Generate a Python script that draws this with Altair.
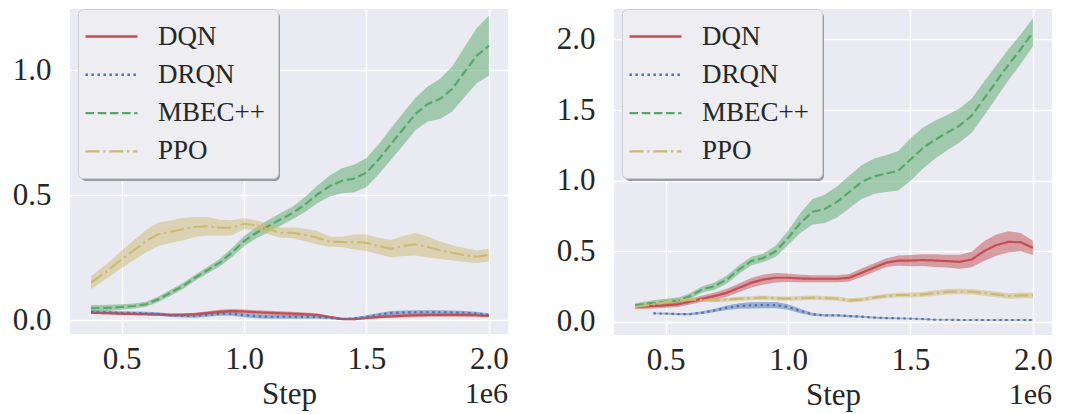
import altair as alt
import pandas as pd

# ---------------- data (x in millions of steps) ----------------
STEPS = [0.375, 0.45, 0.50, 0.55, 0.60, 0.65, 0.70, 0.75, 0.80, 0.85, 0.90, 0.95,
         1.00, 1.05, 1.10, 1.15, 1.20, 1.25, 1.30, 1.35, 1.40, 1.45, 1.50, 1.55,
         1.60, 1.65, 1.70, 1.75, 1.80, 1.85, 1.90, 1.95, 2.00]

SERIES = ["DQN", "DRQN", "MBEC++", "PPO"]
COLORS = ["#C44E52", "#4C72B0", "#55A868", "#CCB974"]
DASHES = [[1, 0], [2.4, 3.6], [8.5, 3.7], [14, 3.7, 2.4, 3.7]]

# left panel
L_DQN = [0.029, 0.027, 0.025, 0.024, 0.023, 0.022, 0.020, 0.021, 0.023, 0.028, 0.033, 0.036,
         0.034, 0.031, 0.029, 0.027, 0.025, 0.023, 0.020, 0.012, 0.004, 0.003, 0.008, 0.012,
         0.015, 0.017, 0.019, 0.020, 0.020, 0.020, 0.020, 0.019, 0.016]
L_DQN_SD = [0.005, 0.005, 0.005, 0.005, 0.005, 0.005, 0.005, 0.006, 0.006, 0.007, 0.008, 0.008,
            0.008, 0.008, 0.008, 0.008, 0.008, 0.007, 0.006, 0.005, 0.004, 0.004, 0.005, 0.006,
            0.007, 0.007, 0.007, 0.007, 0.007, 0.007, 0.007, 0.006, 0.005]
L_DRQN = [0.033, 0.031, 0.029, 0.028, 0.027, 0.024, 0.019, 0.017, 0.016, 0.020, 0.025, 0.025,
          0.019, 0.015, 0.013, 0.013, 0.013, 0.012, 0.012, 0.009, 0.004, 0.006, 0.013, 0.021,
          0.028, 0.030, 0.031, 0.031, 0.031, 0.030, 0.029, 0.026, 0.020]
L_DRQN_SD = [0.006, 0.006, 0.006, 0.006, 0.006, 0.007, 0.007, 0.007, 0.007, 0.007, 0.008, 0.008,
             0.008, 0.008, 0.008, 0.008, 0.008, 0.007, 0.007, 0.006, 0.005, 0.005, 0.006, 0.007,
             0.008, 0.008, 0.008, 0.008, 0.008, 0.008, 0.007, 0.007, 0.006]
L_MBEC = [0.047, 0.049, 0.052, 0.056, 0.063, 0.083, 0.109, 0.136, 0.169, 0.199, 0.229, 0.269,
          0.316, 0.349, 0.376, 0.403, 0.429, 0.463, 0.503, 0.536, 0.557, 0.566, 0.590, 0.643,
          0.704, 0.764, 0.824, 0.864, 0.884, 0.924, 0.991, 1.057, 1.097]
L_MBEC_SD = [0.013, 0.012, 0.011, 0.010, 0.010, 0.011, 0.012, 0.012, 0.012, 0.013, 0.015, 0.018,
             0.020, 0.022, 0.025, 0.025, 0.025, 0.030, 0.035, 0.042, 0.050, 0.055, 0.058, 0.060,
             0.063, 0.065, 0.065, 0.070, 0.080, 0.090, 0.100, 0.110, 0.120]
L_PPO = [0.149, 0.203, 0.243, 0.279, 0.316, 0.343, 0.353, 0.363, 0.372, 0.375, 0.369, 0.369,
         0.385, 0.379, 0.363, 0.349, 0.349, 0.340, 0.329, 0.313, 0.312, 0.312, 0.309, 0.296,
         0.285, 0.296, 0.303, 0.292, 0.279, 0.269, 0.260, 0.253, 0.260]
L_PPO_SD = [0.025, 0.030, 0.035, 0.040, 0.045, 0.047, 0.045, 0.045, 0.040, 0.037, 0.032, 0.030,
            0.022, 0.020, 0.020, 0.020, 0.022, 0.025, 0.027, 0.020, 0.020, 0.030, 0.033, 0.033,
            0.035, 0.040, 0.045, 0.042, 0.035, 0.030, 0.028, 0.025, 0.025]

# right panel
R_DQN = [0.106, 0.113, 0.118, 0.125, 0.144, 0.165, 0.184, 0.207, 0.242, 0.278, 0.301, 0.313,
         0.313, 0.308, 0.306, 0.306, 0.306, 0.313, 0.348, 0.384, 0.419, 0.435, 0.435, 0.438,
         0.435, 0.431, 0.426, 0.442, 0.501, 0.544, 0.567, 0.565, 0.525]
R_DQN_SD = [0.015, 0.017, 0.018, 0.019, 0.020, 0.022, 0.025, 0.028, 0.030, 0.033, 0.035, 0.033,
            0.030, 0.027, 0.025, 0.025, 0.025, 0.027, 0.030, 0.030, 0.030, 0.035, 0.040, 0.042,
            0.045, 0.045, 0.050, 0.055, 0.070, 0.075, 0.075, 0.065, 0.050]
R_DRQN = [None, 0.061, 0.059, 0.056, 0.056, 0.066, 0.082, 0.101, 0.113, 0.118, 0.120, 0.120,
          0.106, 0.078, 0.054, 0.047, 0.047, 0.042, 0.038, 0.031, 0.028, 0.026, 0.024, 0.021,
          0.016, 0.016, 0.014, 0.014, 0.014, 0.014, 0.014, 0.014, 0.014]
R_DRQN_SD = [None, 0.005, 0.006, 0.007, 0.008, 0.010, 0.012, 0.016, 0.020, 0.022, 0.022, 0.022,
             0.020, 0.016, 0.010, 0.008, 0.008, 0.008, 0.007, 0.006, 0.006, 0.005, 0.005, 0.005,
             0.004, 0.004, 0.004, 0.004, 0.004, 0.004, 0.004, 0.004, 0.004]
R_MBEC = [0.118, 0.136, 0.144, 0.153, 0.184, 0.231, 0.254, 0.301, 0.372, 0.431, 0.454, 0.501,
          0.595, 0.700, 0.780, 0.800, 0.850, 0.920, 0.990, 1.030, 1.050, 1.070, 1.150, 1.230,
          1.290, 1.340, 1.390, 1.460, 1.580, 1.700, 1.820, 1.930, 2.050]
R_MBEC_SD = [0.015, 0.018, 0.020, 0.020, 0.020, 0.022, 0.025, 0.028, 0.030, 0.030, 0.030, 0.040,
             0.050, 0.070, 0.090, 0.100, 0.110, 0.115, 0.120, 0.125, 0.130, 0.140, 0.150, 0.145,
             0.135, 0.125, 0.120, 0.120, 0.120, 0.115, 0.110, 0.105, 0.100]
R_PPO = [0.106, 0.125, 0.141, 0.153, 0.160, 0.155, 0.153, 0.158, 0.165, 0.169, 0.172, 0.167,
         0.165, 0.169, 0.172, 0.169, 0.165, 0.153, 0.158, 0.172, 0.184, 0.191, 0.191, 0.195,
         0.205, 0.214, 0.216, 0.214, 0.205, 0.195, 0.184, 0.188, 0.188]
R_PPO_SD = [0.012, 0.012, 0.013, 0.013, 0.013, 0.013, 0.013, 0.013, 0.014, 0.014, 0.015, 0.015,
            0.015, 0.015, 0.015, 0.015, 0.015, 0.015, 0.015, 0.015, 0.016, 0.016, 0.017, 0.018,
            0.019, 0.020, 0.020, 0.020, 0.020, 0.020, 0.020, 0.020, 0.020]

LEFT = {"DQN": (L_DQN, L_DQN_SD), "DRQN": (L_DRQN, L_DRQN_SD),
        "MBEC++": (L_MBEC, L_MBEC_SD), "PPO": (L_PPO, L_PPO_SD)}
RIGHT = {"DQN": (R_DQN, R_DQN_SD), "DRQN": (R_DRQN, R_DRQN_SD),
         "MBEC++": (R_MBEC, R_MBEC_SD), "PPO": (R_PPO, R_PPO_SD)}


def table(panel):
    rows = []
    for name in SERIES:
        means, sds = panel[name]
        for s, m, d in zip(STEPS, means, sds):
            if m is None:
                continue
            rows.append({"series": name, "band": name, "step": s, "mean": m,
                         "lo": m - d, "hi": m + d})
    return pd.DataFrame(rows)


FONT = "Liberation Serif"
TXT = "#262626"
W = 438


def panel(df, ydomain, yticks, height):
    xs = alt.Scale(domain=[0.289, 2.078], nice=False, zero=False)
    ys = alt.Scale(domain=ydomain, nice=False, zero=False)
    cscale = alt.Scale(domain=SERIES, range=COLORS)
    fscale = alt.Scale(range=COLORS)  # data-driven domain (same alphabetical order)
    dscale = alt.Scale(domain=SERIES, range=DASHES)
    leg = alt.Legend(
        title=None, orient="none", legendX=8, legendY=0, zindex=2,
        fillColor="#EDEDF2", strokeColor="#CDCDD2",
        cornerRadius=5, padding=13,
        labelFont=FONT, labelFontSize=27, labelColor=TXT, labelOffset=32,
        symbolType="M-2,0L2,0", symbolSize=676, symbolStrokeWidth=2.4,
        symbolOffset=6, rowPadding=10.3, labelLimit=300, symbolOpacity=1,
    )
    base = alt.Chart(df)
    xenc = alt.X("step:Q", scale=xs, title="Step",
                 axis=alt.Axis(values=[0.5, 1.0, 1.5, 2.0], format=".1f"))
    yaxis = alt.Axis(values=yticks, format=".1f", title=None)

    shadow = base.mark_rect(color="#9C9CA0", cornerRadius=5).encode(
        x=alt.value(11), x2=alt.value(210), y=alt.value(3), y2=alt.value(172)
    ).transform_filter("datum.series == 'DQN' && datum.step == 2.0")

    band = base.mark_area(opacity=0.5).encode(
        x=xenc,
        y=alt.Y("lo:Q", scale=ys, axis=yaxis),
        y2="hi:Q",
        fill=alt.Fill("band:N", scale=fscale, legend=None),
    )
    line = base.mark_line(strokeWidth=2.2).encode(
        x=xenc,
        y=alt.Y("mean:Q", scale=ys, axis=yaxis),
        stroke=alt.Stroke("series:N", scale=cscale, legend=leg),
        strokeDash=alt.StrokeDash("series:N", scale=dscale, legend=leg),
    )
    exp = base.mark_text(font=FONT, fontSize=30, color=TXT, align="right",
                         baseline="middle").encode(
        x=alt.value(W), y=alt.value(height + 60), text=alt.value("1e6")
    ).transform_filter("datum.series == 'DQN' && datum.step == 2.0")
    return alt.layer(band, line, shadow, exp).properties(width=W, height=height)


left = panel(table(LEFT), [-0.056, 1.244], [0.0, 0.5, 1.0], 325)
right = panel(table(RIGHT), [-0.092, 2.215], [0.0, 0.5, 1.0, 1.5, 2.0], 326)

chart = alt.hconcat(left, right, spacing=106, bounds="flush").resolve_scale(
    x="independent", y="independent", stroke="independent", strokeDash="independent",
    fill="independent"
).properties(
    padding={"left": 4, "top": 0, "right": 5, "bottom": 5},
    background="white",
).configure_view(
    fill="#EAEAF2", stroke=None
).configure_axis(
    grid=True, gridColor="white", gridWidth=1.4, domain=False, ticks=False, tickSize=0,
    labelFont=FONT, labelFontSize=31, labelColor=TXT,
    titleFont=FONT, titleFontSize=31, titleColor=TXT, titleFontWeight="normal",
).configure_axisY(
    labelPadding=19
).configure_axisX(
    labelPadding=10, titlePadding=5
)

chart.save("out.html", embed_options={"renderer": "svg", "actions": False})
